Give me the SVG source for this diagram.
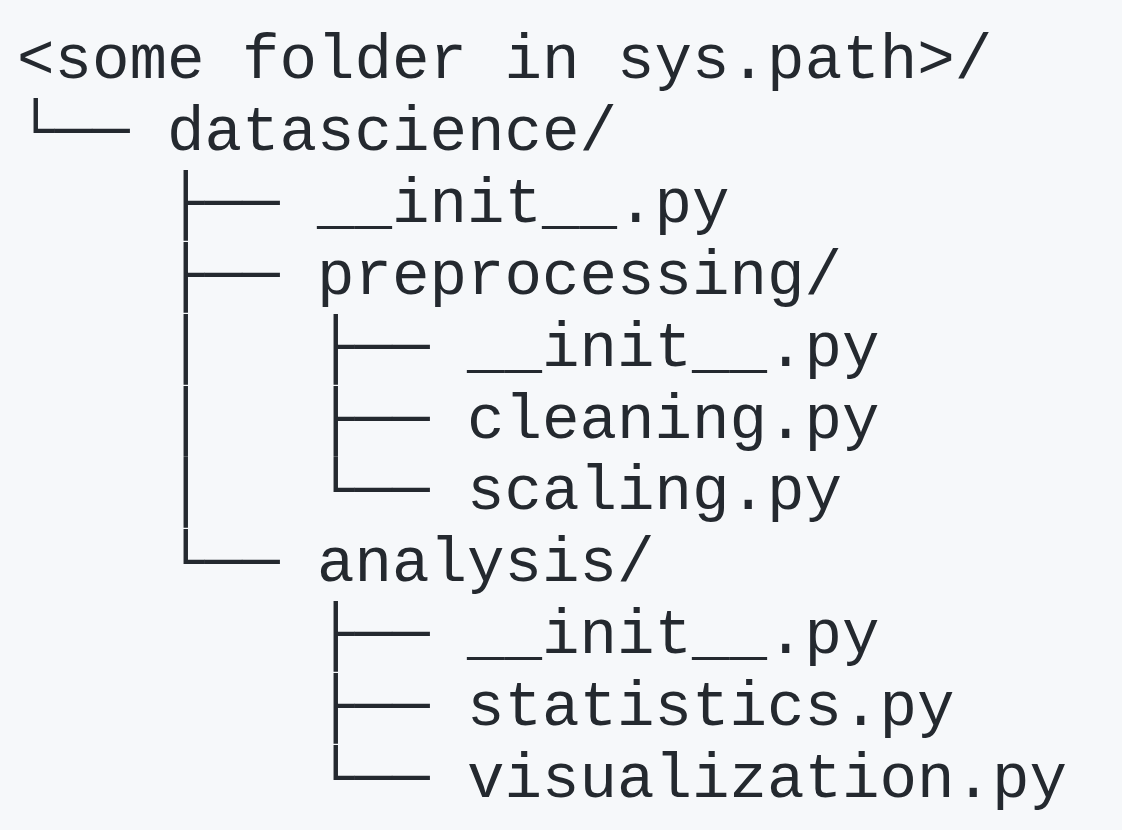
<svg xmlns="http://www.w3.org/2000/svg" width="1122" height="830" viewBox="0 0 1122 830">
<style>
text{font-family:"Liberation Mono","DejaVu Sans Mono",monospace;font-size:62.5px;fill:#24292f;white-space:pre}
</style>
<rect width="1122" height="830" fill="#f6f8fa"/>
<g id="connectors">
<text x="17" y="149.9">└──</text>
<text x="167" y="221.8">├──</text>
<text x="167" y="293.7">├──</text>
<text x="167" y="365.6">│   ├──</text>
<text x="167" y="437.5">│   ├──</text>
<text x="167" y="509.4">│   └──</text>
<text x="167" y="581.3">└──</text>
<text x="317" y="653.2">├──</text>
<text x="317" y="725.1">├──</text>
<text x="317" y="797">└──</text>
</g>
<g id="root"><text x="17" y="78">&lt;some folder in sys.path&gt;/</text></g>
<g id="datascience"><text x="167" y="149.9">datascience/</text></g>
<g id="ds_init"><text x="317" y="221.8">__init__.py</text></g>
<g id="preprocessing"><text x="317" y="293.7">preprocessing/</text></g>
<g id="pre_init"><text x="467" y="365.6">__init__.py</text></g>
<g id="cleaning"><text x="467" y="437.5">cleaning.py</text></g>
<g id="scaling"><text x="467" y="509.4">scaling.py</text></g>
<g id="analysis"><text x="317" y="581.3">analysis/</text></g>
<g id="an_init"><text x="467" y="653.2">__init__.py</text></g>
<g id="statistics"><text x="467" y="725.1">statistics.py</text></g>
<g id="visualization"><text x="467" y="797">visualization.py</text></g>
</svg>
